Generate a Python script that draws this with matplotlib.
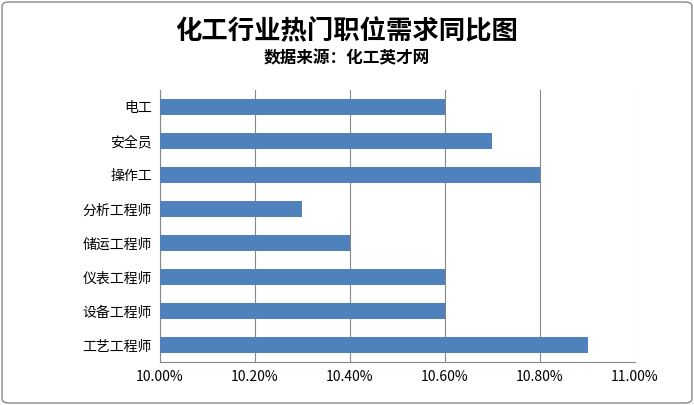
import matplotlib
matplotlib.use("Agg")
import matplotlib.pyplot as plt
from matplotlib.patches import FancyBboxPatch

categories = ["电工", "安全员", "操作工", "分析工程师", "储运工程师", "仪表工程师", "设备工程师", "工艺工程师"]
values = [10.60, 10.70, 10.80, 10.30, 10.40, 10.60, 10.60, 10.90]
xticks = [10.0, 10.2, 10.4, 10.6, 10.8, 11.0]

plt.rcParams["font.family"] = "Noto Sans CJK SC"
fig = plt.figure(figsize=(6.94, 4.05), dpi=100)
fig.patches.append(FancyBboxPatch((0.003, 0.005), 0.994, 0.99, boxstyle="round,pad=0,rounding_size=0.01",
                                  transform=fig.transFigure, fill=False, ec="#888888", lw=1))
ax = fig.add_axes([0.2305, 0.106, 0.6845, 0.672])
y = list(range(len(categories)))[::-1]
ax.barh(y, [v - 10.0 for v in values], left=10.0, height=0.45, color="#4F81BD", zorder=3)
ax.set_xlim(10.0, 11.0)
ax.set_ylim(-0.5, len(categories) - 0.5)
ax.set_xticks(xticks)
ax.set_xticklabels([f"{t:.2f}%" for t in xticks], fontsize=10)
ax.set_yticks(y)
ax.set_yticklabels(categories, fontsize=10)
ax.grid(axis="x", color="#888888", lw=0.8, zorder=0)
for s in ["top", "right"]:
    ax.spines[s].set_visible(False)
ax.spines["left"].set_color("#888888")
ax.spines["bottom"].set_color("#888888")
ax.tick_params(length=0, pad=6)
fig.text(0.5, 0.925, "化工行业热门职位需求同比图", ha="center", va="center", fontsize=19, fontweight="bold")
fig.text(0.5, 0.855, "数据来源：化工英才网", ha="center", va="center", fontsize=12, fontweight="bold")
fig.savefig("out.png", dpi=100)
